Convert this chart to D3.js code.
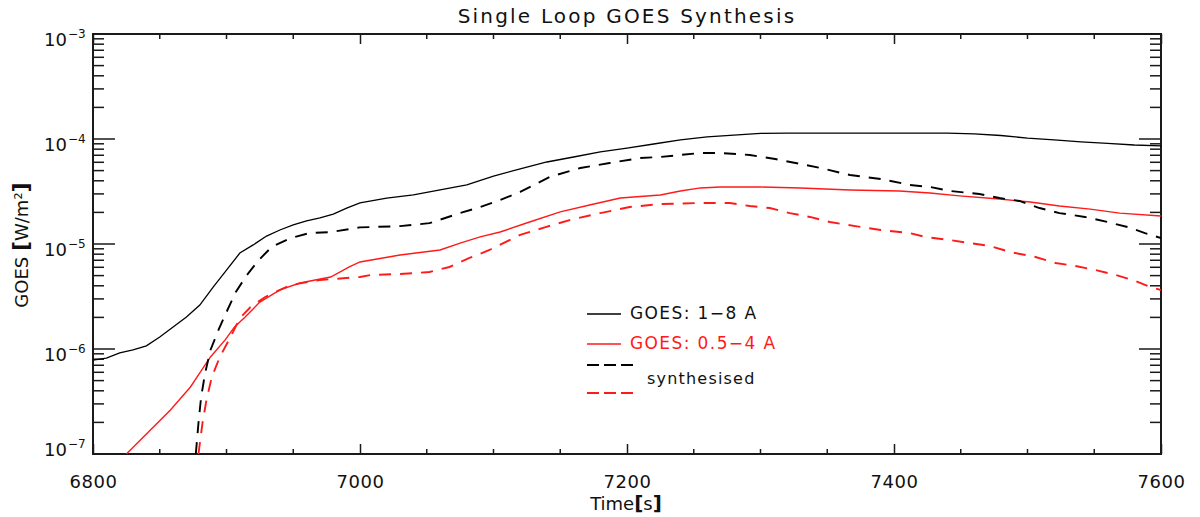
<!DOCTYPE html>
<html>
<head>
<meta charset="utf-8">
<script src="https://cdn.jsdelivr.net/npm/d3@7"></script>
<style>
  html, body { margin: 0; padding: 0; background: #fff; }
  svg text { font-family: "DejaVu Sans", sans-serif; }
</style>
</head>
<body>
<svg id="chart" width="1200" height="517"></svg>
<script>
// GOES 1-8 A observed flux (W/m^2)
const goes18Time = [6800,6810,6820,6830,6840,6850,6860,6870,6880,6890,6900,6910,6920,6930,6940,6950,6960,6970,6980,6990,7000,
  7020,7040,7060,7080,7100,7120,7140,7160,7180,7200,7220,7240,7260,7280,7300,7320,7340,7360,7380,7400,7420,7440,7460,7480,7500,7520,7540,7560,7580,7600];
const goes18Flux = [7.85e-7,8.2e-7,9.2e-7,9.8e-7,1.07e-6,1.3e-6,1.62e-6,2.02e-6,2.62e-6,3.89e-6,5.65e-6,8.2e-6,9.8e-6,1.19e-5,1.36e-5,1.52e-5,1.66e-5,1.77e-5,1.93e-5,2.2e-5,2.46e-5,
  2.74e-5,2.93e-5,3.27e-5,3.65e-5,4.44e-5,5.2e-5,6.04e-5,6.74e-5,7.53e-5,8.2e-5,8.96e-5,9.8e-5,1.05e-4,1.09e-4,1.13e-4,1.14e-4,1.14e-4,1.14e-4,1.14e-4,1.14e-4,1.14e-4,1.14e-4,1.12e-4,1.08e-4,1.02e-4,9.8e-5,9.4e-5,9.1e-5,8.77e-5,8.6e-5];

// GOES 0.5-4 A observed flux (W/m^2)
const goes054Time = [6825,6843,6858,6873,6880,6888,6899,6906,6914,6925,6940,6955,6978,6992,7000,7030,7060,7075,7090,7105,
  7127,7150,7172,7195,7225,7240,7255,7270,7300,7330,7367,7404,7427,7449,7479,7502,7524,7547,7569,7600];
const goes054Flux = [1.0e-7,1.69e-7,2.62e-7,4.35e-7,5.91e-7,8.4e-7,1.22e-6,1.62e-6,2.02e-6,2.8e-6,3.65e-6,4.25e-6,4.85e-6,6.04e-6,6.74e-6,7.85e-6,8.77e-6,1.02e-5,1.17e-5,1.3e-5,
  1.62e-5,2.02e-5,2.35e-5,2.74e-5,2.93e-5,3.2e-5,3.42e-5,3.49e-5,3.49e-5,3.42e-5,3.27e-5,3.2e-5,3.06e-5,2.87e-5,2.68e-5,2.51e-5,2.3e-5,2.15e-5,1.97e-5,1.85e-5];

// Synthesised 1-8 A flux from the loop model
const synth18Time = [6877,6879,6881,6884,6888,6894,6900,6907,6915,6924,6934,6948,6962,6978,7000,7030,7052,7075,7090,7105,
  7120,7142,7165,7187,7210,7225,7255,7270,7292,7311,7330,7345,7367,7390,7412,7427,7442,7464,7479,7494,7509,7524,7543,7560,7575,7588,7600];
const synth18Flux = [1.0e-7,1.97e-7,3.5e-7,5.9e-7,9.8e-7,1.52e-6,2.25e-6,3.5e-6,5.0e-6,7.0e-6,9.4e-6,1.14e-5,1.27e-5,1.3e-5,1.44e-5,1.48e-5,1.58e-5,1.97e-5,2.25e-5,2.62e-5,
  3.13e-5,4.35e-5,5.29e-5,5.91e-5,6.59e-5,6.74e-5,7.36e-5,7.36e-5,7.04e-5,6.45e-5,5.78e-5,5.29e-5,4.54e-5,4.16e-5,3.65e-5,3.49e-5,3.2e-5,2.99e-5,2.74e-5,2.57e-5,2.2e-5,1.97e-5,1.81e-5,1.62e-5,1.45e-5,1.27e-5,1.14e-5];

// Synthesised 0.5-4 A flux from the loop model
const synth054Time = [6879,6882,6885,6889,6895,6903,6910,6918,6929,6948,6970,7000,7008,7030,7052,7067,7082,7097,7120,7139,
  7157,7180,7202,7225,7255,7277,7292,7307,7322,7337,7352,7371,7390,7412,7423,7442,7457,7472,7487,7506,7521,7536,7551,7566,7581,7592,7600];
const synth054Flux = [1.0e-7,1.97e-7,3.27e-7,5.41e-7,8.4e-7,1.3e-6,1.97e-6,2.51e-6,3.13e-6,4.07e-6,4.54e-6,4.85e-6,5.07e-6,5.18e-6,5.41e-6,6.04e-6,7.36e-6,8.77e-6,1.22e-5,1.45e-5,
  1.69e-5,1.97e-5,2.25e-5,2.4e-5,2.46e-5,2.46e-5,2.3e-5,2.2e-5,1.97e-5,1.81e-5,1.62e-5,1.48e-5,1.36e-5,1.27e-5,1.17e-5,1.09e-5,1.02e-5,9.57e-6,8.39e-6,7.52e-6,6.59e-6,6.17e-6,5.65e-6,5.07e-6,4.44e-6,3.89e-6,3.65e-6];

// Axis ticks and labels
const xMajorTicks = [6800, 7000, 7200, 7400, 7600];
const xMinorTicks = [6850, 6900, 6950, 7050, 7100, 7150, 7250, 7300, 7350, 7450, 7500, 7550];
const yDecades = [-7, -6, -5, -4, -3];
const legendLabels = ["GOES: 1\u22128 A", "GOES: 0.5\u22124 A", "synthesised"];

const titleText = "Single Loop GOES Synthesis";
const xTitle = "Time";
const xUnit = "s";
const yTitle = "GOES";
const yUnit = "W/m\u00b2";

(function draw() {
  const svg = d3.select("#chart");
  const pl = 93, pr = 1161, pt = 34, pb = 454;

  const x = d3.scaleLinear().domain([6800, 7600]).range([pl, pr]);
  const y = d3.scaleLog().domain([1e-7, 1e-3]).range([pb, pt]);

  const axisColor = "#1a1a1a";

  svg.append("defs").append("clipPath").attr("id", "plotClip")
    .append("rect").attr("x", pl).attr("y", pt).attr("width", pr - pl).attr("height", pb - pt);

  // Bottom and top x axes (top axis without labels)
  const xMajLen = 10, xMinLen = 5;
  const gxb = svg.append("g").attr("transform", `translate(0,${pb})`)
    .call(d3.axisBottom(x).tickValues(xMajorTicks).tickSize(-xMajLen).tickSizeOuter(0).tickPadding(21).tickFormat(d3.format("d")));
  const gxt = svg.append("g").attr("transform", `translate(0,${pt})`)
    .call(d3.axisTop(x).tickValues(xMajorTicks).tickSize(-xMajLen).tickSizeOuter(0).tickFormat(""));
  [gxb, gxt].forEach(g => {
    g.select(".domain").remove();
    g.selectAll("line").attr("stroke", axisColor).attr("stroke-width", 1.5);
  });
  gxb.selectAll("text").attr("fill", "#111").attr("font-size", 18).attr("letter-spacing", 0.5)
    .attr("font-family", "DejaVu Sans, sans-serif");
  xMinorTicks.forEach(t => {
    svg.append("line").attr("x1", x(t)).attr("x2", x(t)).attr("y1", pb).attr("y2", pb - xMinLen)
      .attr("stroke", axisColor).attr("stroke-width", 1.5);
    svg.append("line").attr("x1", x(t)).attr("x2", x(t)).attr("y1", pt).attr("y2", pt + xMinLen)
      .attr("stroke", axisColor).attr("stroke-width", 1.5);
  });

  // Log y axis ticks on both sides
  const yMajLen = 22, yMinLen = 11;
  yDecades.forEach((e, i) => {
    const v = Math.pow(10, e);
    const yy = y(v);
    svg.append("line").attr("x1", pl).attr("x2", pl + yMajLen).attr("y1", yy).attr("y2", yy)
      .attr("stroke", axisColor).attr("stroke-width", 1.5);
    svg.append("line").attr("x1", pr).attr("x2", pr - yMajLen).attr("y1", yy).attr("y2", yy)
      .attr("stroke", axisColor).attr("stroke-width", 1.5);
    if (i < yDecades.length - 1) {
      for (let m = 2; m <= 9; m++) {
        const ym = y(m * v);
        svg.append("line").attr("x1", pl).attr("x2", pl + yMinLen).attr("y1", ym).attr("y2", ym)
          .attr("stroke", axisColor).attr("stroke-width", 1.5);
        svg.append("line").attr("x1", pr).attr("x2", pr - yMinLen).attr("y1", ym).attr("y2", ym)
          .attr("stroke", axisColor).attr("stroke-width", 1.5);
      }
    }
    const base = (e === -7) ? yy + 2 : yy + 12;
    svg.append("text").attr("x", 67).attr("y", base).attr("text-anchor", "end")
      .attr("font-size", 18).attr("fill", "#111").text("10");
    svg.append("text").attr("x", 68).attr("y", base - 8).attr("font-size", 12).attr("fill", "#111")
      .text("\u2212" + Math.abs(e));
  });

  // Plot frame
  svg.append("rect").attr("x", pl).attr("y", pt).attr("width", pr - pl).attr("height", pb - pt)
    .attr("fill", "none").attr("stroke", axisColor).attr("stroke-width", 2);

  // Curves
  const line = d3.line().x(d => x(d[0])).y(d => y(d[1]));
  const series = [
    { t: goes18Time, v: goes18Flux, color: "#000", dash: null, w: 1.3 },
    { t: goes054Time, v: goes054Flux, color: "#ff1a1a", dash: null, w: 1.4 },
    { t: synth18Time, v: synth18Flux, color: "#000", dash: "12,9", w: 1.9 },
    { t: synth054Time, v: synth054Flux, color: "#ff1a1a", dash: "12,9", w: 1.9 }
  ];
  const plot = svg.append("g").attr("clip-path", "url(#plotClip)");
  series.forEach(s => {
    plot.append("path").datum(d3.zip(s.t, s.v)).attr("d", line)
      .attr("fill", "none").attr("stroke", s.color).attr("stroke-width", s.w)
      .attr("stroke-dasharray", s.dash);
  });

  // Legend
  const lg = svg.append("g");
  lg.append("line").attr("x1", 587).attr("x2", 621).attr("y1", 314).attr("y2", 314).attr("stroke", "#000").attr("stroke-width", 1.6);
  lg.append("text").attr("x", 630).attr("y", 319).attr("font-size", 17).attr("letter-spacing", 1.4).attr("fill", "#111").text(legendLabels[0]);
  lg.append("line").attr("x1", 587).attr("x2", 621).attr("y1", 344).attr("y2", 344).attr("stroke", "#ff1a1a").attr("stroke-width", 1.6);
  lg.append("text").attr("x", 630).attr("y", 349).attr("font-size", 17).attr("letter-spacing", 1.4).attr("fill", "#ff1a1a").text(legendLabels[1]);
  lg.append("line").attr("x1", 587).attr("x2", 633).attr("y1", 365).attr("y2", 365).attr("stroke", "#000").attr("stroke-width", 1.8).attr("stroke-dasharray", "12,5");
  lg.append("line").attr("x1", 587).attr("x2", 633).attr("y1", 393).attr("y2", 393).attr("stroke", "#ff1a1a").attr("stroke-width", 1.8).attr("stroke-dasharray", "12,5");
  lg.append("text").attr("x", 647).attr("y", 384).attr("font-size", 16).attr("letter-spacing", 1.2).attr("fill", "#111").text(legendLabels[2]);

  // Titles
  svg.append("text").attr("x", 627).attr("y", 23).attr("text-anchor", "middle").attr("font-size", 20)
    .attr("letter-spacing", 2.2).attr("fill", "#111").text(titleText);

  const xt = svg.append("text").attr("x", 626).attr("y", 510).attr("text-anchor", "middle").attr("font-size", 18).attr("fill", "#111");
  xt.append("tspan").text(xTitle);
  xt.append("tspan").attr("font-weight", "bold").attr("font-size", 20).text("[");
  xt.append("tspan").text(xUnit);
  xt.append("tspan").attr("font-weight", "bold").attr("font-size", 20).text("]");

  const yt = svg.append("text").attr("transform", "translate(28,245) rotate(-90)").attr("text-anchor", "middle")
    .attr("font-size", 18).attr("fill", "#111");
  yt.append("tspan").text(yTitle + " ");
  yt.append("tspan").attr("font-weight", "bold").attr("font-size", 22).text("[");
  yt.append("tspan").text(yUnit);
  yt.append("tspan").attr("font-weight", "bold").attr("font-size", 22).text("]");
})();
</script>
</body>
</html>
